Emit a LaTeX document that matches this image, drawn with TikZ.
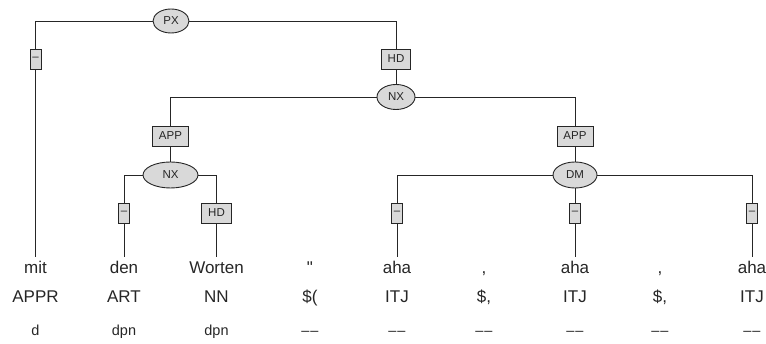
\documentclass[tikz,border=0pt]{standalone}
\usepackage{fontspec}
\setmainfont{Liberation Sans}
\usepackage{tikz}
\usetikzlibrary{shapes.geometric}

\newcommand{\nomorph}{\textendash\kern1pt\textendash}

\tikzset{
    cat/.style={ellipse, draw=black!85, fill=black!15, line width=0.9pt, inner sep=0pt,
        minimum height=24pt, font=\fontsize{11.5}{12}\selectfont, text=black!85},
    edgelab/.style={rectangle, draw=black!85, fill=black!15, line width=0.9pt,
        inner xsep=6.5pt, inner ysep=0pt, minimum height=20pt,
        font=\fontsize{11.5}{12}\selectfont, text=black!85},
    dashlab/.style={edgelab, inner xsep=0pt, minimum width=11pt},
    word/.style={anchor=base, font=\fontsize{17}{18}\selectfont, text=black!85,
        text height=13pt, text depth=4pt, inner ysep=4pt},
    postag/.style={anchor=base, font=\fontsize{17}{18}\selectfont, text=black!85},
    morph/.style={anchor=base, font=\fontsize{14.5}{15}\selectfont, text=black!85},
    branch/.style={draw=black!85, line width=0.9pt}
}

\begin{document}
\begin{tikzpicture}[x=1pt, y=-1pt]
    \useasboundingbox (0,0) rectangle (766,344);

    % Terminals: word, POS tag, morphology
    \foreach \x/\w/\p/\m [count=\i] in {35.5/mit/APPR/d, 124/den/ART/dpn,
        216.5/Worten/NN/dpn, 310/\textquotedbl/{\$(}/\nomorph, 397/aha/ITJ/\nomorph,
        484/{,}/{\$,}/\nomorph, 575/aha/ITJ/\nomorph, 660/{,}/{\$,}/\nomorph,
        752/aha/ITJ/\nomorph} {
        \node[word] (w\i) at (\x, 274) {\w};
        \node[postag] (p\i) at (\x, 303) {\p};
        \node[morph] (m\i) at (\x, 336) {\m};
    }

    % Phrase nodes
    \node[cat, minimum width=36pt] (px) at (171, 21) {PX};
    \node[cat, minimum width=38pt, minimum height=25pt] (nxtop) at (396, 97) {NX};
    \node[cat, minimum width=55pt, minimum height=26pt] (nxapp) at (170.5, 175) {NX};
    \node[cat, minimum width=44pt, minimum height=26pt] (dm) at (575, 175) {DM};

    % Edge labels
    \node[dashlab] (e1) at (35.5, 59) {–};
    \node[edgelab] (e2) at (396, 59) {HD};
    \node[edgelab] (e3) at (170.5, 136) {APP};
    \node[edgelab] (e4) at (575, 136) {APP};
    \node[dashlab] (e5) at (124, 213) {–};
    \node[edgelab] (e6) at (216.5, 213) {HD};
    \node[dashlab] (e7) at (397, 213) {–};
    \node[dashlab] (e8) at (575, 213) {–};
    \node[dashlab] (e9) at (752, 213) {–};

    % Branches
    \draw[branch] (px.west) -| (e1.north);
    \draw[branch] (e1.south) -- (w1.north);
    \draw[branch] (px.east) -| (e2.north);
    \draw[branch] (e2.south) -- (nxtop.north);
    \draw[branch] (nxtop.west) -| (e3.north);
    \draw[branch] (e3.south) -- (nxapp.north);
    \draw[branch] (nxtop.east) -| (e4.north);
    \draw[branch] (e4.south) -- (dm.north);
    \draw[branch] (nxapp.west) -| (e5.north);
    \draw[branch] (e5.south) -- (w2.north);
    \draw[branch] (nxapp.east) -| (e6.north);
    \draw[branch] (e6.south) -- (w3.north);
    \draw[branch] (dm.west) -| (e7.north);
    \draw[branch] (e7.south) -- (w5.north);
    \draw[branch] (dm.south) -- (e8.north);
    \draw[branch] (e8.south) -- (w7.north);
    \draw[branch] (dm.east) -| (e9.north);
    \draw[branch] (e9.south) -- (w9.north);
\end{tikzpicture}
\end{document}
